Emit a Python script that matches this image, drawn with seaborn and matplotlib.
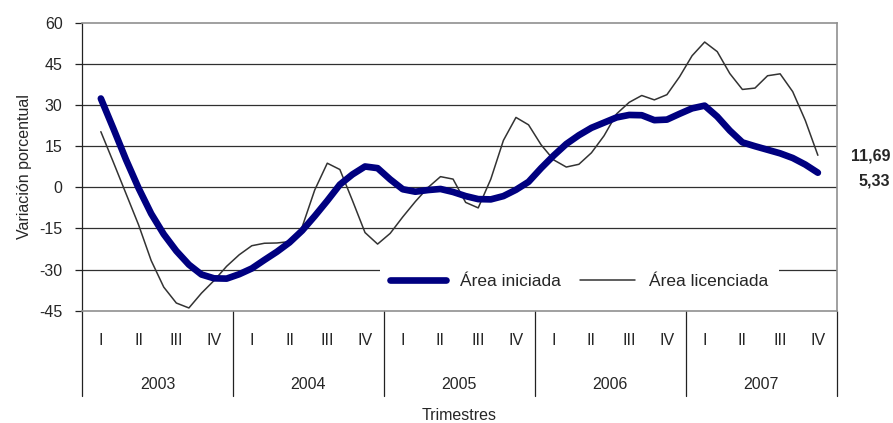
import matplotlib
matplotlib.use("Agg")
import matplotlib.pyplot as plt
import matplotlib.transforms as mtransforms
import seaborn as sns
import pandas as pd
import numpy as np

# monthly readings (Feb 2003 .. Nov 2007), one every third of a quarter
iniciada = [32.4, 21.4, 10.1, -0.3, -9.6, -17.1, -23.2, -28.2, -31.8, -33.2,
            -33.3, -31.7, -29.6, -26.5, -23.5, -20.1, -15.8, -10.5, -4.9, 1.0,
            4.7, 7.6, 7.0, 2.9, -0.7, -1.6, -1.0, -0.6, -1.7, -3.2,
            -4.3, -4.4, -3.2, -0.9, 2.0, 7.0, 11.6, 15.8, 19.0, 21.7,
            23.6, 25.5, 26.4, 26.3, 24.5, 24.7, 26.8, 28.8, 29.8, 25.8,
            20.7, 16.4, 15.0, 13.7, 12.4, 10.7, 8.3, 5.33]
licenciada = [20.3, 9.1, -2.3, -13.7, -26.7, -36.4, -42.2, -44.0, -38.6, -34.0,
              -28.8, -24.6, -21.3, -20.4, -20.3, -19.8, -14.5, -1.0, 8.8, 6.5,
              -4.8, -16.5, -20.7, -16.8, -10.8, -5.2, -0.1, 3.9, 3.0, -5.5,
              -7.5, 3.0, 17.1, 25.5, 22.8, 15.5, 10.0, 7.4, 8.4, 12.6,
              18.8, 26.8, 31.0, 33.5, 31.9, 33.8, 40.3, 48.0, 53.0, 49.5,
              41.5, 35.7, 36.2, 40.7, 41.4, 34.9, 24.4, 11.69]
trimestres = ["I", "II", "III", "IV"]
anios = ["2003", "2004", "2005", "2006", "2007"]

t = np.arange(len(iniciada)) / 3.0
df = pd.DataFrame({"t": t, "ini": iniciada, "lic": licenciada})

sns.set_style("white")
plt.rcParams["font.family"] = ["Liberation Sans", "DejaVu Sans"]

fig = plt.figure(figsize=(8.93, 4.23), dpi=100)
ax = fig.add_axes([0.0918, 0.2655, 0.8452, 0.6805])

# grid
for v in range(-30, 60, 15):
    ax.axhline(v, color="#303030", lw=0.9, zorder=1)

sns.lineplot(data=df, x="t", y="lic", ax=ax, color="#333333", lw=1.1,
             label="Área licenciada", zorder=3, solid_joinstyle="round")
sns.lineplot(data=df, x="t", y="ini", ax=ax, color="#000080", lw=4.8,
             label="Área iniciada", zorder=4, solid_capstyle="round",
             solid_joinstyle="round")

ax.set_xlim(-0.5, 19.5)
ax.set_ylim(-45, 60)
ax.set_yticks(range(-45, 61, 15))
ax.set_yticklabels([str(v) for v in range(-45, 61, 15)], fontsize=11.5)
ax.tick_params(axis="y", length=5, width=0.9, pad=9, color="#222222", left=True)

ax.set_xticks(range(20))
ax.set_xticklabels(trimestres * 5, fontsize=11.5)
ax.tick_params(axis="x", length=0, pad=16)

ax.set_xlabel("Trimestres", fontsize=11.5, labelpad=43)
ax.set_ylabel("Variación porcentual", fontsize=11.5, labelpad=5)

for s in ["top", "right", "bottom"]:
    ax.spines[s].set_color("#909090")
    ax.spines[s].set_linewidth(1.2)
ax.spines["left"].set_color("#222222")
ax.spines["left"].set_linewidth(0.9)

# year labels and separators below the axis
trans = mtransforms.blended_transform_factory(ax.transData, ax.transAxes)
for i, yr in enumerate(anios):
    ax.text(4 * i + 1.5, -0.255, yr, transform=trans, ha="center", va="center",
            fontsize=11.5)
for xb in np.arange(-0.5, 20, 4):
    ax.plot([xb, xb], [0, -0.295], transform=trans, color="#222222", lw=0.9,
            clip_on=False)

handles, labels = ax.get_legend_handles_labels()
leg = ax.legend(handles[::-1], labels[::-1], ncol=2, loc="center",
                bbox_to_anchor=(0.659, 0.1), fontsize=12.5, frameon=True,
                facecolor="white", edgecolor="none", framealpha=1,
                handlelength=3.2, columnspacing=1.1, borderpad=0.6)

fig.text(0.997, 1 - 156 / 423, "11,69", ha="right", va="center",
         fontsize=11.5, fontweight="bold")
fig.text(0.997, 1 - 181 / 423, "5,33", ha="right", va="center",
         fontsize=11.5, fontweight="bold")

fig.savefig("out.png", dpi=100)
